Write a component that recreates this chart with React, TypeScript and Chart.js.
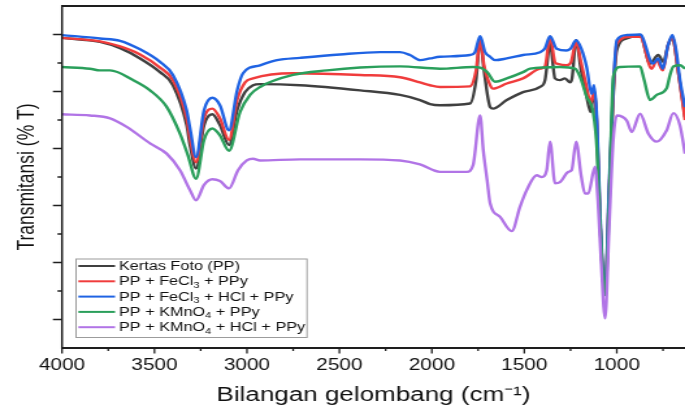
import React, { useEffect, useRef } from "react";
import { Chart, registerables } from "chart.js";

Chart.register(...registerables);

// ---------- data ----------
const seriesLabels = [
  "Kertas Foto (PP)",
  "PP + FeCl₃ + PPy",
  "PP + FeCl₃ + HCl + PPy",
  "PP + KMnO₄ + PPy",
  "PP + KMnO₄ + HCl + PPy",
];
const seriesColors = ["#404040", "#f03c3c", "#1f63e3", "#2a9f5b", "#b174e6"];

const kertasWn = [4000, 3795, 3686, 3578, 3470, 3400, 3326, 3308, 3275, 3232, 3187, 3146, 3097, 3053, 3010, 2967, 2929, 2713, 2388, 2172, 2064, 2010, 1956, 1794, 1761, 1739, 1718, 1685, 1669, 1595, 1507, 1415, 1388, 1361, 1334, 1307, 1280, 1253, 1242, 1220, 1193, 1163, 1141, 1123, 1107, 1091, 1063, 1042, 1020, 1000, 946, 874, 820, 776, 748, 723, 699, 669, 631];
const kertasT = [49.4, 48.7, 47.6, 45.8, 43.4, 41.1, 34.1, 30.6, 26.5, 34.1, 36.0, 34.1, 30.6, 36.7, 39.9, 41.1, 41.3, 41.1, 40.2, 39.4, 38.5, 37.8, 37.6, 37.9, 42.0, 49.3, 43.7, 37.3, 37.0, 38.5, 39.9, 40.8, 42.0, 48.4, 42.3, 42.0, 42.3, 41.6, 42.3, 49.0, 43.7, 39.1, 36.4, 40.2, 33.2, 17.4, 4.3, 20.9, 38.5, 47.2, 49.3, 49.9, 44.9, 46.4, 45.2, 48.1, 49.4, 43.7, 35.5];

const fecl3Wn = [4000, 3795, 3686, 3578, 3470, 3400, 3326, 3308, 3275, 3232, 3187, 3146, 3097, 3053, 3010, 2967, 2751, 2388, 2172, 2064, 2010, 1956, 1794, 1761, 1739, 1718, 1685, 1669, 1595, 1507, 1415, 1388, 1361, 1334, 1325, 1271, 1248, 1220, 1193, 1163, 1141, 1123, 1107, 1091, 1063, 1042, 1020, 1000, 928, 874, 811, 784, 751, 723, 699, 669, 631];
const fecl3T = [49.4, 48.8, 47.9, 46.5, 44.2, 42.0, 35.3, 31.8, 27.6, 35.3, 37.0, 35.3, 31.5, 38.5, 41.6, 42.3, 43.2, 42.9, 42.5, 41.6, 41.1, 40.8, 40.9, 43.7, 49.1, 44.6, 41.1, 40.5, 41.4, 42.3, 44.0, 44.4, 49.6, 45.1, 44.9, 44.6, 45.1, 48.7, 45.1, 40.8, 37.9, 39.9, 34.1, 18.3, 4.8, 21.8, 39.4, 48.4, 49.6, 49.6, 44.0, 45.5, 43.7, 48.1, 49.5, 43.7, 35.0];

const fecl3HclWn = [4000, 3795, 3686, 3578, 3470, 3400, 3326, 3308, 3275, 3232, 3187, 3146, 3097, 3053, 3021, 2929, 2837, 2713, 2497, 2280, 2172, 2118, 2064, 2010, 1956, 1794, 1767, 1739, 1712, 1685, 1658, 1595, 1507, 1415, 1388, 1361, 1325, 1271, 1248, 1220, 1193, 1163, 1136, 1123, 1107, 1091, 1063, 1042, 1020, 1000, 946, 874, 804, 776, 751, 723, 699, 679, 658, 631];
const fecl3HclT = [49.9, 49.3, 48.9, 47.4, 45.2, 42.9, 36.7, 33.6, 28.5, 36.7, 38.9, 37.6, 33.2, 40.2, 43.2, 44.6, 45.5, 45.9, 46.5, 46.9, 46.9, 46.4, 45.5, 45.8, 46.1, 46.4, 46.9, 49.7, 46.9, 46.1, 45.5, 45.8, 46.4, 46.9, 47.6, 49.7, 47.5, 47.2, 47.6, 49.0, 47.6, 44.3, 39.6, 41.1, 35.0, 19.2, 5.1, 22.7, 40.2, 49.0, 49.9, 50.0, 44.9, 45.8, 44.0, 48.1, 49.9, 47.2, 42.0, 37.3];

const kmno4Wn = [4000, 3849, 3795, 3740, 3616, 3524, 3434, 3362, 3319, 3275, 3232, 3187, 3146, 3097, 3037, 2983, 2929, 2751, 2567, 2388, 2172, 1956, 1777, 1739, 1701, 1658, 1595, 1507, 1469, 1307, 1226, 1199, 1163, 1127, 1107, 1091, 1063, 1042, 1019, 982, 874, 852, 820, 784, 730, 712, 694, 658, 631];
const kmno4T = [44.3, 44.0, 43.7, 43.7, 42.0, 40.2, 37.3, 32.6, 28.8, 24.7, 31.5, 33.5, 32.3, 29.6, 36.4, 39.4, 40.8, 42.9, 43.7, 44.2, 44.4, 44.0, 44.3, 44.2, 43.4, 41.7, 42.3, 43.4, 44.0, 44.3, 44.0, 42.6, 39.1, 36.2, 29.7, 17.4, 4.3, 19.2, 42.6, 44.3, 44.4, 42.0, 38.5, 39.4, 40.6, 42.9, 44.4, 44.6, 44.0];

const kmno4HclWn = [4000, 3849, 3740, 3650, 3524, 3434, 3362, 3308, 3275, 3232, 3187, 3146, 3097, 3048, 3001, 2967, 2929, 2713, 2388, 2172, 2064, 1956, 1811, 1777, 1739, 1722, 1701, 1685, 1631, 1568, 1523, 1487, 1433, 1406, 1379, 1361, 1334, 1307, 1262, 1244, 1220, 1193, 1172, 1154, 1118, 1102, 1085, 1063, 1042, 1019, 1000, 946, 919, 874, 829, 784, 730, 694, 658, 631];
const kmno4HclT = [36.0, 35.8, 35.3, 33.8, 30.9, 29.1, 26.2, 22.7, 20.9, 23.6, 24.6, 24.3, 23.0, 26.2, 27.9, 28.2, 27.9, 28.1, 28.1, 27.9, 27.2, 25.9, 25.9, 27.1, 35.8, 29.7, 24.4, 20.4, 18.0, 15.5, 19.8, 22.7, 25.3, 25.0, 26.2, 31.2, 23.9, 24.1, 25.9, 26.2, 31.2, 25.3, 22.1, 22.1, 26.8, 20.9, 10.4, 0.2, 15.7, 31.5, 35.8, 34.9, 32.9, 36.1, 32.6, 31.2, 33.2, 36.2, 34.0, 29.1];

const xMajorTicks = [4000, 3500, 3000, 2500, 2000, 1500, 1000];
const xMinorTicks = [3750, 3250, 2750, 2250, 1750, 1250, 750];
const yMajorTicks = [0, 10, 20, 30, 40, 50];
const yMinorTicks = [5, 15, 25, 35, 45];
const xMin = 631;
const xMax = 4000;
const yMin = -5;
const yMax = 55;

const xTitle = "Bilangan gelombang (cm⁻¹)";
const yTitle = "Transmitansi (% T)";

// ---------- layout / style ----------
const W = 685;
const H = 407;
const CW = 527; // drawn narrower, displayed stretched horizontally
const SX = W / CW;
const FONT = "'Liberation Sans', Arial, Helvetica, sans-serif";
const AXIS = "#1e1e1e";
const LEGEND_BOX = { left: 58.5, top: 259, right: 236.2, bottom: 337.5 };
const LEGEND_ROW0 = 266;
const LEGEND_STEP = 15.3;
const LEGEND_FONT = 12.5;

const allWn = [kertasWn, fecl3Wn, fecl3HclWn, kmno4Wn, kmno4HclWn];
const allT = [kertasT, fecl3T, fecl3HclT, kmno4T, kmno4HclT];
const drawOrder = [4, 3, 2, 1, 0];

const SUBS: Record<string, string> = { "₀": "0", "₁": "1", "₂": "2", "₃": "3", "₄": "4", "₅": "5", "₆": "6", "₇": "7", "₈": "8", "₉": "9" };

function drawRich(ctx: CanvasRenderingContext2D, text: string, x: number, y: number, size: number) {
  let cx = x;
  for (const ch of Array.from(text)) {
    if (SUBS[ch]) {
      ctx.font = `${size * 0.68}px ${FONT}`;
      ctx.fillText(SUBS[ch], cx, y + size * 0.3);
      cx += ctx.measureText(SUBS[ch]).width;
    } else {
      ctx.font = `${size}px ${FONT}`;
      ctx.fillText(ch, cx, y);
      cx += ctx.measureText(ch).width;
    }
  }
}

const overlayPlugin = {
  id: "overlay",
  afterDraw(chart: any) {
    const { ctx, chartArea: a, scales } = chart;
    const xs = scales.x;
    const ys = scales.y;
    ctx.save();
    ctx.strokeStyle = AXIS;
    // frame
    ctx.lineWidth = 2;
    ctx.beginPath();
    ctx.moveTo(a.left, a.top);
    ctx.lineTo(a.right + 2, a.top);
    ctx.moveTo(a.left, a.bottom);
    ctx.lineTo(a.right + 2, a.bottom);
    ctx.stroke();
    ctx.lineWidth = 1.5;
    ctx.beginPath();
    ctx.moveTo(a.left, a.top - 1);
    ctx.lineTo(a.left, a.bottom + 1);
    ctx.stroke();
    // y ticks
    ctx.lineWidth = 1.6;
    ctx.beginPath();
    for (const v of yMajorTicks) {
      const y = ys.getPixelForValue(v);
      ctx.moveTo(a.left - 7, y);
      ctx.lineTo(a.left, y);
    }
    for (const v of yMinorTicks) {
      const y = ys.getPixelForValue(v);
      ctx.moveTo(a.left - 3.5, y);
      ctx.lineTo(a.left, y);
    }
    ctx.stroke();
    // x ticks
    ctx.lineWidth = 1.3;
    ctx.beginPath();
    for (const v of xMajorTicks) {
      const x = xs.getPixelForValue(v);
      ctx.moveTo(x, a.bottom);
      ctx.lineTo(x, a.bottom + 5.5);
    }
    for (const v of xMinorTicks) {
      const x = xs.getPixelForValue(v);
      if (x > a.right) continue;
      ctx.moveTo(x, a.bottom);
      ctx.lineTo(x, a.bottom + 3);
    }
    ctx.stroke();
    // legend
    const b = LEGEND_BOX;
    ctx.fillStyle = "#ffffff";
    ctx.fillRect(b.left, b.top, b.right - b.left, b.bottom - b.top);
    ctx.strokeStyle = "#9c9c9c";
    ctx.lineWidth = 1;
    ctx.strokeRect(b.left, b.top, b.right - b.left, b.bottom - b.top);
    ctx.textBaseline = "middle";
    ctx.textAlign = "left";
    seriesLabels.forEach((label, i) => {
      const y = LEGEND_ROW0 + i * LEGEND_STEP;
      ctx.strokeStyle = seriesColors[i];
      ctx.lineWidth = 2;
      ctx.beginPath();
      ctx.moveTo(b.left + 1.8, y);
      ctx.lineTo(b.left + 30, y);
      ctx.stroke();
      ctx.fillStyle = "#111111";
      drawRich(ctx, label, b.left + 33, y + 0.5, LEGEND_FONT);
    });
    ctx.restore();
  },
};

export default function App() {
  const ref = useRef<HTMLCanvasElement>(null);
  useEffect(() => {
    const canvas = ref.current;
    if (!canvas) return;
    const datasets = seriesLabels.map((label, i) => ({
      label,
      data: allWn[i].map((w, k) => ({ x: w, y: allT[i][k] })),
      borderColor: seriesColors[i],
      backgroundColor: seriesColors[i],
      borderWidth: 2.4,
      pointRadius: 0,
      fill: false,
      cubicInterpolationMode: "monotone" as const,
      order: drawOrder[i],
    }));
    const chart = new Chart(canvas, {
      type: "line",
      data: { datasets },
      options: {
        animation: false,
        responsive: false,
        devicePixelRatio: 1,
        parsing: false as any,
        normalized: true,
        layout: { padding: { top: 6, left: 0, right: 0, bottom: 0 } },
        plugins: { legend: { display: false }, tooltip: { enabled: false } },
        events: [],
        scales: {
          x: {
            type: "linear",
            reverse: true,
            min: xMin,
            max: xMax,
            grid: { display: false, drawTicks: false },
            border: { display: false },
            afterBuildTicks: (s: any) => {
              s.ticks = xMajorTicks.map((v) => ({ value: v }));
            },
            afterFit: (s: any) => {
              s.height = 59;
            },
            ticks: {
              autoSkip: false,
              maxRotation: 0,
              minRotation: 0,
              padding: 8.4,
              color: "#111",
              font: { size: 16, family: FONT },
              callback: (v: any) => String(v),
            },
            title: {
              display: true,
              text: xTitle,
              color: "#111",
              font: { size: 20, family: FONT },
              padding: { top: 0, bottom: 0 },
            },
          },
          y: {
            type: "linear",
            min: yMin,
            max: yMax,
            grid: { display: false, drawTicks: false },
            border: { display: false },
            ticks: { display: false },
            afterFit: (s: any) => {
              s.width = 47.7;
            },
            title: {
              display: true,
              text: yTitle,
              color: "#111",
              font: { size: 17.5, family: FONT },
              padding: { top: 10.3, bottom: 0 },
            },
          },
        },
      },
      plugins: [overlayPlugin],
    } as any);
    return () => chart.destroy();
  }, []);
  return (
    <div style={{ position: "fixed", left: 0, top: 0, width: W, height: H, overflow: "hidden", background: "#fff" }}>
      <canvas
        ref={ref}
        width={CW}
        height={H}
        style={{ display: "block", width: CW, height: H, transform: `scaleX(${SX})`, transformOrigin: "0 0" }}
      />
    </div>
  );
}
